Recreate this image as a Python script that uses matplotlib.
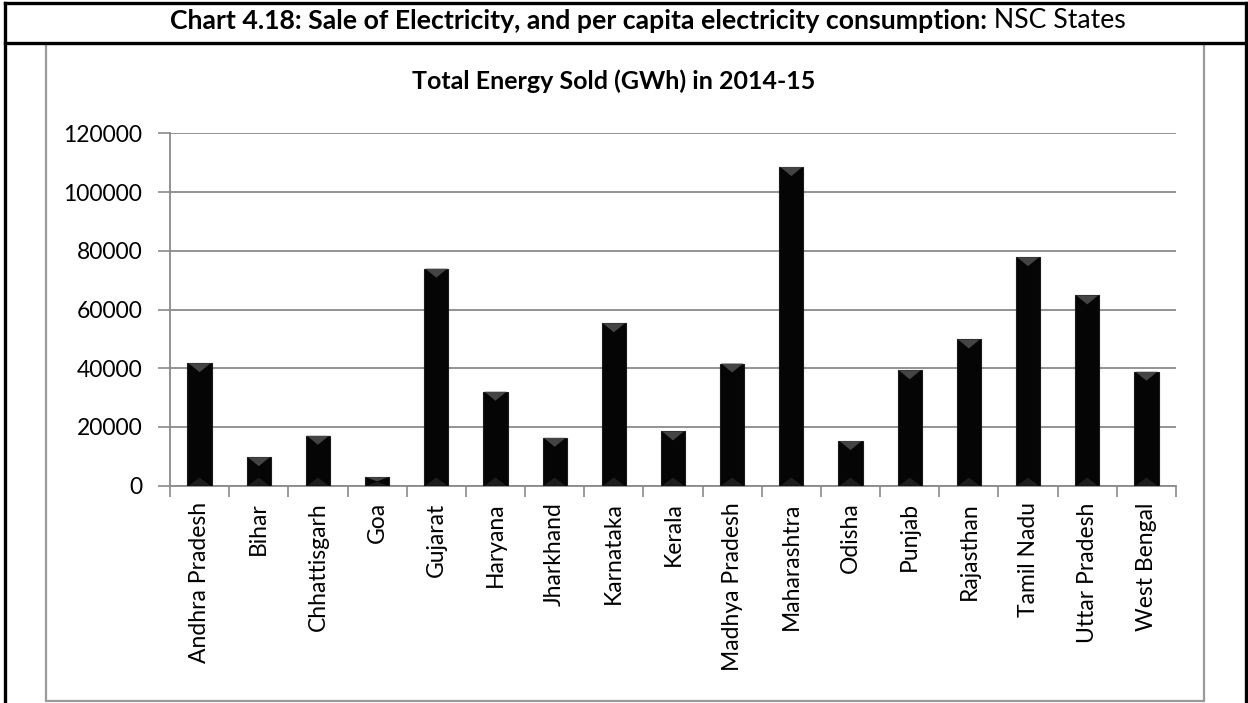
import matplotlib
matplotlib.use("Agg")
import matplotlib.pyplot as plt
from matplotlib.patches import Polygon, Rectangle
from matplotlib.lines import Line2D
import numpy as np

states = ["Andhra Pradesh", "Bihar", "Chhattisgarh", "Goa", "Gujarat", "Haryana",
          "Jharkhand", "Karnataka", "Kerala", "Madhya Pradesh", "Maharashtra",
          "Odisha", "Punjab", "Rajasthan", "Tamil Nadu", "Uttar Pradesh", "West Bengal"]
energy_sold = [41700, 9700, 17000, 2900, 73900, 32000, 16300, 55300, 18500,
               41600, 108500, 15200, 39300, 49800, 77800, 64800, 38800]
y_ticks = [0, 20000, 40000, 60000, 80000, 100000, 120000]

header_bold = "Chart 4.18: Sale of Electricity, and per capita electricity consumption:"
header_normal = " NSC States"
chart_title = "Total Energy Sold (GWh) in 2014-15"

plt.rcParams['font.family'] = ['Lato', 'DejaVu Sans']

W, H = 1248, 703
fig = plt.figure(figsize=(W / 100, H / 100), dpi=100)

def fx(px):
    return px / W

def fy(py):
    return 1 - py / H

# Outer table frame (black)
for (x0, y0, x1, y1) in [(5, 3, 1246, 3), (5, 43, 1246, 43), (5, 3, 5, 703), (1246, 3, 1246, 703)]:
    fig.add_artist(Line2D([fx(x0), fx(x1)], [fy(y0), fy(y1)], color="black", lw=2.4,
                          transform=fig.transFigure, solid_capstyle="projecting"))
# Inner chart frame (gray)
fig.add_artist(Rectangle((fx(46), fy(701)), fx(1204) - fx(46), fy(44) - fy(701),
                         transform=fig.transFigure, fill=False, edgecolor="#9a9a9a", lw=1.6))

# Header text: bold + regular
t1 = fig.text(0.5, fy(21), header_bold, ha="center", va="center", fontsize=19.2,
              fontweight="bold")
fig.canvas.draw()
r = fig.canvas.get_renderer()
bb1 = t1.get_window_extent(r)
t2 = fig.text(0, fy(21), header_normal, ha="left", va="center", fontsize=19.2)
bb2 = t2.get_window_extent(r)
total = bb1.width + bb2.width
start = 648 - total / 2
t1.set_ha("left")
t1.set_x(start / W)
t2.set_x((start + bb1.width) / W)

fig.text(fx(614), fy(81), chart_title, ha="center", va="center", fontsize=18, fontweight="bold")

ax = fig.add_axes([fx(170), fy(485.7), fx(1176) - fx(170), fy(133.3) - fy(485.7)])
x = np.arange(len(states))
bw = 0.41
bars = ax.bar(x, energy_sold, width=bw, color="#050505", edgecolor="#1a1a1a", lw=0.8, zorder=3)

# bevel effect at top and bottom of bars
for xi, v in zip(x, energy_sold):
    bh = 120000 * 9 / 352.4
    bh = min(bh, v / 2)
    top = Polygon([[xi - bw / 2 + 0.02, v], [xi + bw / 2 - 0.02, v], [xi, v - bh]],
                  closed=True, facecolor="#444444", edgecolor="none", zorder=4)
    ax.add_patch(top)
    bot = Polygon([[xi - bw / 2 + 0.02, 0], [xi + bw / 2 - 0.02, 0], [xi, bh * 0.9]],
                  closed=True, facecolor="#1e1e1e", edgecolor="none", zorder=4)
    ax.add_patch(bot)

ax.set_xlim(-0.5, len(states) - 0.5)
ax.set_ylim(0, 120000)
ax.set_yticks(y_ticks)
ax.set_yticklabels([str(v) for v in y_ticks], fontsize=16.5)
ax.yaxis.grid(True, color="#8a8a8a", lw=1.3, zorder=0)
ax.set_axisbelow(True)

ax.set_xticks(x)
ax.set_xticklabels(states, rotation=90, fontsize=16.5, va="top")
ax.set_xticks(np.arange(len(states) + 1) - 0.5, minor=True)
ax.tick_params(axis="x", which="major", length=0, pad=12)
ax.tick_params(axis="x", which="minor", length=8, width=1.2, color="#8a8a8a")
ax.tick_params(axis="y", length=9, width=1.2, color="#8a8a8a", pad=11)

for s in ["top", "right"]:
    ax.spines[s].set_visible(False)
for s in ["left", "bottom"]:
    ax.spines[s].set_color("#8a8a8a")
    ax.spines[s].set_linewidth(1.3)

fig.savefig("out.png", dpi=100)
